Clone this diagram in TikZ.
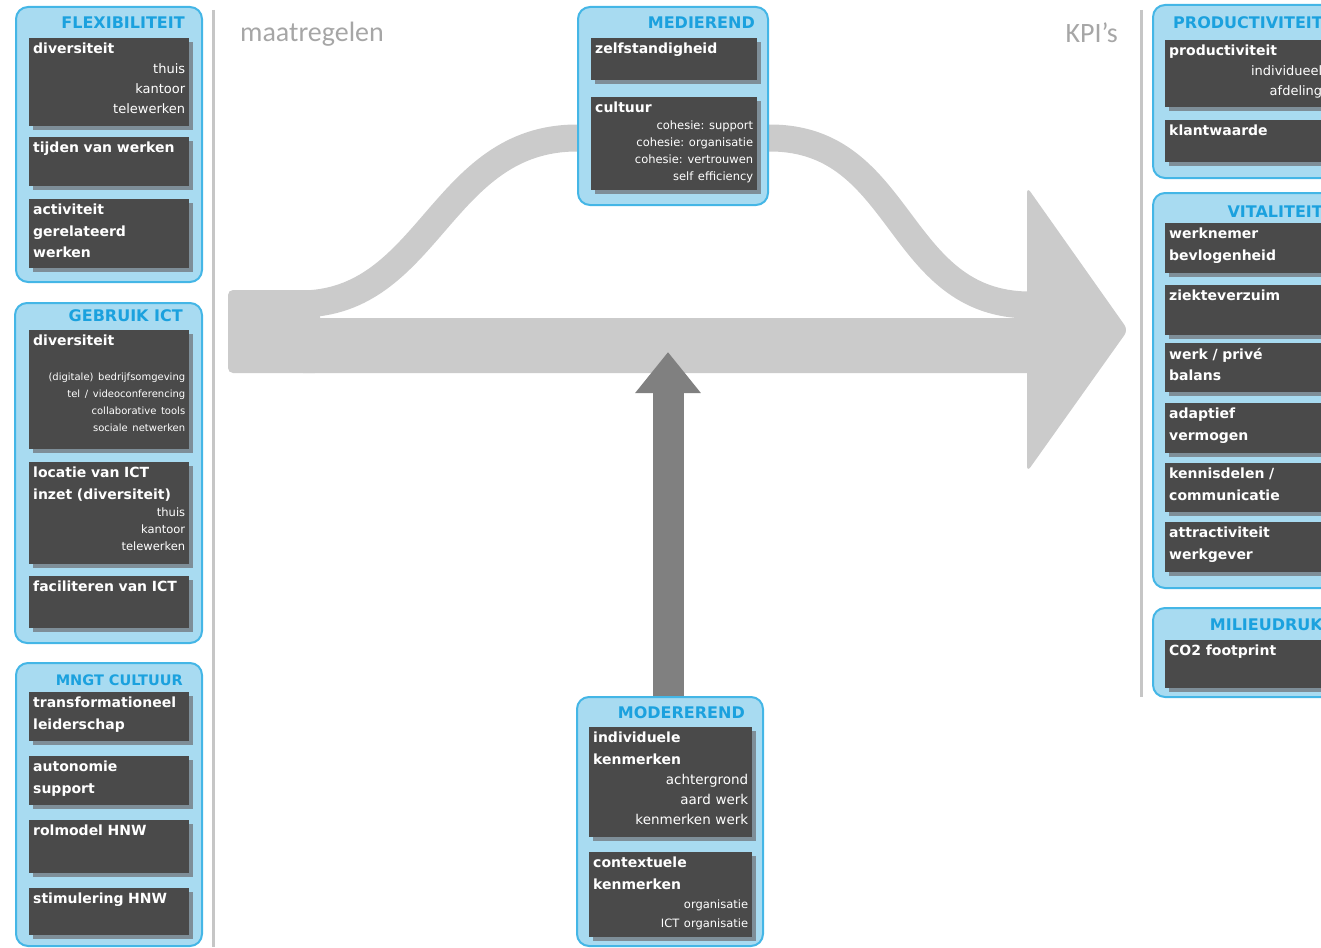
\documentclass[tikz,border=0pt]{standalone}
\usepackage{fontspec}
\usepackage{xcolor}
\usepackage{tikz}
\usetikzlibrary{arrows.meta,shadows,fit}
\newfontfamily\celfont{DejaVu Sans}
\newfontfamily\grijsfont{Carlito}
\definecolor{panelblauw}{HTML}{A8DBF1}
\definecolor{randblauw}{HTML}{44B6E6}
\definecolor{kopblauw}{HTML}{1BA1DE}
\definecolor{celgrijs}{HTML}{4A4A4A}
\definecolor{schaduw}{HTML}{7E8E98}
\definecolor{pijlgrijs}{HTML}{CBCBCB}
\definecolor{pijldonker}{HTML}{808080}
\definecolor{lijngrijs}{HTML}{C6C6C6}
\definecolor{tekstgrijs}{HTML}{A6A6A6}
\newcommand{\subregels}[3]{\par{\raggedleft\mdseries\fontsize{#1}{#2}\selectfont #3\par}}
\newcommand{\celvak}[2]{\vbox to #1{\kern2pt #2\vfil}}
\tikzset{
    panel/.style={draw=randblauw, fill=panelblauw, line width=2pt, rounded corners=12pt, inner sep=0pt},
    kop/.style={anchor=east, text=kopblauw, inner sep=0pt, font=\celfont\bfseries\fontsize{16}{16}\selectfont},
    cell/.style={anchor=north west, fill=celgrijs, text=white, text width=#1, inner xsep=4pt, inner ysep=3pt,
        font=\celfont\bfseries\frenchspacing\fontsize{14}{21.5}\selectfont,
        drop shadow={shadow xshift=4pt, shadow yshift=-4pt, fill=schaduw, opacity=1}},
    cell/.default=152pt,
    kopgrijs/.style={text=tekstgrijs, inner sep=0pt, font=\grijsfont\fontsize{28}{28}\selectfont},
    scheiding/.style={draw=lijngrijs, line width=3pt},
    modpijl/.style={draw=pijldonker, line width=31pt, -{Triangle[width=63pt,length=41pt]}}
}

\begin{document}
\begin{tikzpicture}[x=1pt, y=-1pt]
    \path[use as bounding box, clip] (0,0) rectangle (1321,947);

    \begin{scope}[pijlgrijs]
      \fill[rounded corners=5pt] (228,290) rectangle (320,373);
      \fill[rounded corners=3pt] (300,318) rectangle (1040,373);
      \draw[line width=27pt] (300,304) .. controls (430,304) and (440,138) .. (577,138)
          -- (770,138) .. controls (905,138) and (895,305) .. (1030,305);
      \fill[rounded corners=6pt] (1027,187) -- (1128,330) -- (1027,472) -- cycle;
    \end{scope}

    \draw[scheiding] (213,10) -- (213,947);
    \draw[scheiding] (1141,10) -- (1141,697);
    \node[kopgrijs, anchor=base west] (maatregelen) at (240,42) {maatregelen};
    \node[kopgrijs, anchor=base east] (kpis) at (1118,43) {KPI’s};

    % maatregelen
    \node[panel, fit={(16,7) (202,282)}] (flexpanel) {};
    \node[kop] (flexkop) at (185,23) {FLEXIBILITEIT};
    \node[cell] (flexdiv) at (29,38) {\celvak{82pt}{diversiteit\subregels{13}{20}{thuis\\kantoor\\telewerken}}};
    \node[cell] (flextijd) at (29,137) {\celvak{43pt}{tijden van werken}};
    \node[cell] (flexact) at (29,199) {\celvak{63pt}{activiteit\\gerelateerd\\werken}};

    \node[panel, fit={(15,303) (202,643)}] (ictpanel) {};
    \node[kop] (ictkop) at (183,316) {GEBRUIK ICT};
    \node[cell] (ictdiv) at (29,330) {\celvak{113pt}{diversiteit\par\vspace{18pt}\subregels{10}{17}{(digitale) bedrijfsomgeving\\tel / videoconferencing\\collaborative tools\\sociale netwerken}}};
    \node[cell] (ictloc) at (29,462) {\celvak{96pt}{locatie van ICT\\inzet (diversiteit)\subregels{11.5}{17}{thuis\\kantoor\\telewerken}}};
    \node[cell] (ictfac) at (29,576) {\celvak{46pt}{faciliteren van ICT}};

    \node[panel, fit={(16,663) (202,946)}] (mngtpanel) {};
    \node[kop, font=\celfont\bfseries\fontsize{14.5}{16}\selectfont] (mngtkop) at (183,680) {MNGT CULTUUR};
    \node[cell] (mngttrans) at (29,692) {\celvak{43pt}{transformationeel\\leiderschap}};
    \node[cell] (mngtauto) at (29,756) {\celvak{43pt}{autonomie\\support}};
    \node[cell] (mngtrol) at (29,820) {\celvak{47pt}{rolmodel HNW}};
    \node[cell] (mngtstim) at (29,888) {\celvak{41pt}{stimulering HNW}};

    % midden
    \node[panel, fit={(578,7) (768,205)}] (medpanel) {};
    \node[kop] (medkop) at (755,23) {MEDIEREND};
    \node[cell=158pt] (medzelf) at (591,38) {\celvak{36pt}{zelfstandigheid}};
    \node[cell=158pt] (medcult) at (591,97) {\celvak{87pt}{cultuur\subregels{11.5}{17}{cohesie: support\\cohesie: organisatie\\cohesie: vertrouwen\\self efficiency}}};

    \node[panel, fit={(577,697) (763,946)}] (modpanel) {};
    \node[kop] (modkop) at (745,713) {MODEREREND};
    \node[cell=155pt] (modind) at (589,727) {\celvak{104pt}{individuele\\kenmerken\subregels{13.5}{20}{achtergrond\\aard werk\\kenmerken werk}}};
    \node[cell=155pt] (modcon) at (589,852) {\celvak{79pt}{contextuele\\kenmerken\subregels{11.5}{19}{organisatie\\ICT organisatie}}};

    \coordinate (modtip) at (668,352);
    \draw[modpijl] (modpanel.north -| modtip) -- (modtip);

    % KPI's
    \node[panel, fit={(1153,5) (1345,178)}] (prodpanel) {};
    \node[kop] (prodkop) at (1323,23) {PRODUCTIVITEIT};
    \node[cell=153pt] (prodprod) at (1165,40) {\celvak{61pt}{productiviteit\subregels{13}{20}{individueel\\afdeling}}};
    \node[cell=153pt] (prodklant) at (1165,120) {\celvak{36pt}{klantwaarde}};

    \node[panel, fit={(1153,193) (1345,588)}] (vitpanel) {};
    \node[kop] (vitkop) at (1323,212) {VITALITEIT};
    \node[cell=153pt] (vitbevl) at (1165,223) {\celvak{44pt}{werknemer\\bevlogenheid}};
    \node[cell=153pt] (vitziek) at (1165,285) {\celvak{44pt}{ziekteverzuim}};
    \node[cell=153pt] (vitbal) at (1165,343) {\celvak{43pt}{werk / privé\\balans}};
    \node[cell=153pt] (vitadap) at (1165,403) {\celvak{44pt}{adaptief\\vermogen}};
    \node[cell=153pt] (vitkenn) at (1165,463) {\celvak{43pt}{kennisdelen /\\communicatie}};
    \node[cell=153pt] (vitattr) at (1165,522) {\celvak{44pt}{attractiviteit\\werkgever}};

    \node[panel, fit={(1153,608) (1345,697)}] (milpanel) {};
    \node[kop] (milkop) at (1323,625) {MILIEUDRUK};
    \node[cell=153pt] (milco) at (1165,640) {\celvak{42pt}{CO2 footprint}};
\end{tikzpicture}
\end{document}
